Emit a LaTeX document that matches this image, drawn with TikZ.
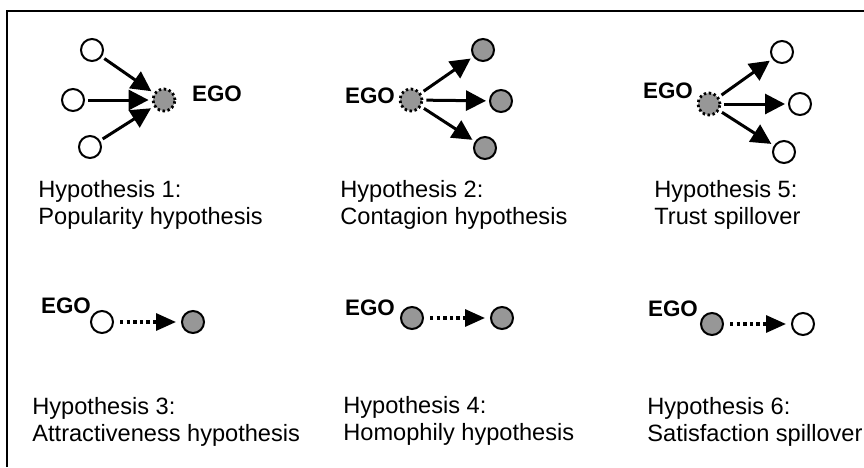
\documentclass[tikz,border=0pt]{standalone}
\usepackage{fontspec}
\setmainfont{Liberation Sans}
\usetikzlibrary{arrows.meta,positioning}
\definecolor{EG}{HTML}{979797}

\tikzset{
  actor/.style={circle, draw, line width=1pt, minimum size=11pt, inner sep=0pt},
  plain/.style={actor, fill=white},
  shaded/.style={actor, fill=EG},
  ego/.style={actor, fill=EG, line width=1.4pt, dash pattern=on 1.2pt off 1.3pt},
  tie/.style={line width=1.5pt, -{Triangle[length=10pt,width=10pt]},
              shorten <=1.5pt, shorten >=1.5pt},
  spill/.style={line width=1.6pt, dash pattern=on 1.7pt off 1.6pt,
                -{Triangle[length=10pt,width=8.5pt]},
                shorten <=3pt, shorten >=2.5pt},
  egotag/.style={font=\bfseries\fontsize{11.2}{13}\selectfont, inner sep=0pt},
  caption/.style={align=left, anchor=base west, inner sep=0pt,
                  font=\fontsize{11.8}{13.5}\selectfont}
}

\begin{document}
\begin{tikzpicture}[x=0.5pt, y=-0.5pt]
    \useasboundingbox (0,0) rectangle (864,467);
    % frame, cut at the right and bottom
    \draw[line width=0.6pt] (7,467) -- (7,11) -- (864,11);

    % Hypothesis 1
    \node[ego] (e1) at (164,100) {};
    \node[egotag, anchor=base] (t1) at (217,101) {EGO};
    \node[plain] (a1) at (92,50) {};
    \node[plain] (b1) at (73,100) {};
    \node[plain] (c1) at (90,147) {};
    \draw[tie] (a1) -- (e1);
    \draw[tie] (b1) -- (e1);
    \draw[tie] (c1) -- (e1);
    \node[caption] (h1) at (38,224) {Hypothesis 1:\\Popularity hypothesis};

    % Hypothesis 2
    \node[ego] (e2) at (411,100) {};
    \node[egotag, anchor=base] (t2) at (370,103) {EGO};
    \node[shaded] (a2) at (483,50) {};
    \node[shaded] (b2) at (501,101) {};
    \node[shaded] (c2) at (485,148) {};
    \draw[tie] (e2) -- (a2);
    \draw[tie] (e2) -- (b2);
    \draw[tie] (e2) -- (c2);
    \node[caption] (h2) at (340,224) {Hypothesis 2:\\Contagion hypothesis};

    % Hypothesis 5
    \node[ego] (e5) at (709,104) {};
    \node[egotag, anchor=base] (t5) at (668,98) {EGO};
    \node[plain] (a5) at (782,52) {};
    \node[plain] (b5) at (800,104) {};
    \node[plain] (c5) at (784,152) {};
    \draw[tie] (e5) -- (a5);
    \draw[tie] (e5) -- (b5);
    \draw[tie] (e5) -- (c5);
    \node[caption] (h5) at (654,224) {Hypothesis 5:\\Trust spillover};

    % Hypothesis 3
    \node[plain] (e3) at (102,322) {};
    \node[egotag, anchor=base] (t3) at (66,313) {EGO};
    \node[shaded] (a3) at (193,322) {};
    \draw[spill] (e3) -- (a3);
    \node[caption] (h3) at (32,441) {Hypothesis 3:\\Attractiveness hypothesis};

    % Hypothesis 4
    \node[shaded] (e4) at (412,318) {};
    \node[egotag, anchor=base] (t4) at (370,315) {EGO};
    \node[shaded] (a4) at (502,318) {};
    \draw[spill] (e4) -- (a4);
    \node[caption] (h4) at (343,440) {Hypothesis 4:\\Homophily hypothesis};

    % Hypothesis 6
    \node[shaded] (e6) at (712,324) {};
    \node[egotag, anchor=base] (t6) at (673,316) {EGO};
    \node[plain] (a6) at (803,324) {};
    \draw[spill] (e6) -- (a6);
    \node[caption] (h6) at (647,441) {Hypothesis 6:\\Satisfaction spillover};
\end{tikzpicture}
\end{document}
